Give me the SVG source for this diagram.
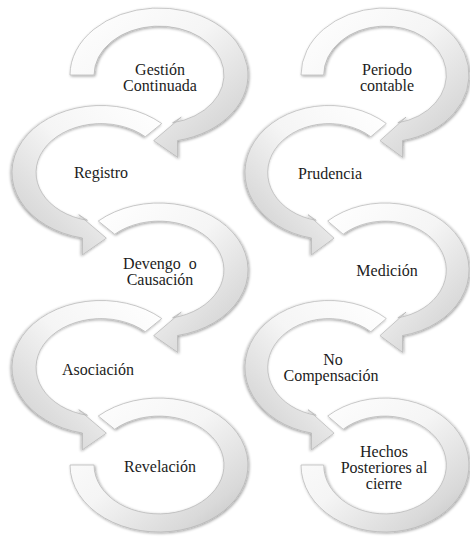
<svg xmlns="http://www.w3.org/2000/svg" width="470" height="539" viewBox="0 0 470 539">
<style>
  .halo { fill: #ffffff; stroke: #ffffff; stroke-width: 5; vector-effect: non-scaling-stroke; stroke-linejoin: round; }
  .shape { fill: url(#gA); stroke: #b3b3b3; stroke-width: 0.9; vector-effect: non-scaling-stroke; filter: url(#sh); }
  text { font-family: 'Liberation Serif', 'DejaVu Serif', serif; font-size: 16px; fill: #1c1c1c; text-anchor: middle; }
</style>
<defs>
  <linearGradient id="gA" x1="0" y1="0" x2="1" y2="1">
    <stop offset="0" stop-color="#ffffff"/>
    <stop offset="0.45" stop-color="#f5f5f5"/>
    <stop offset="0.8" stop-color="#d9d9d9"/>
    <stop offset="1" stop-color="#bdbdbd"/>
  </linearGradient>
  <filter id="sh" x="-15%" y="-15%" width="130%" height="130%">
    <feGaussianBlur in="SourceAlpha" stdDeviation="2"/>
    <feOffset dx="1" dy="2" result="b"/>
    <feComponentTransfer><feFuncA type="linear" slope="0.38"/></feComponentTransfer>
    <feMerge><feMergeNode/><feMergeNode in="SourceGraphic"/></feMerge>
  </filter>
  <path id="pG" d="M -100 0 A 100 100 0 1 1 20.8 97.8 L 21 123 L -6 98 L 25 63 L 15.2 71.4 A 73 73 0 1 0 -73 0 Z"/>
  <path id="pM" d="M -68.2 -73.1 A 100 100 0 1 1 20.8 97.8 L 21 123 L -6 98 L 25 63 L 15.2 71.4 A 73 73 0 1 0 -49.8 -53.4 Z"/>
  <path id="pL" d="M -68.2 -73.1 A 100 100 0 1 1 -100 0 L -73 0 A 73 73 0 1 0 -49.8 -53.4 Z"/>
</defs>
<g id="connectors"/>
<g id="hechos">
  <g transform="translate(385,465) scale(0.84,0.67)"><use href="#pL" class="halo"/><use href="#pL" class="shape"/></g>
  <text x="384" y="457">Hechos</text>
  <text x="384" y="473">Posteriores al</text>
  <text x="384" y="489">cierre</text>
</g>
<g id="nocompensacion">
  <g transform="translate(329,367.5) scale(-0.84,0.67)"><use href="#pM" class="halo"/><use href="#pM" class="shape"/></g>
  <text x="333" y="365">No</text>
  <text x="331" y="381">Compensación</text>
</g>
<g id="medicion">
  <g transform="translate(385,270) scale(0.84,0.67)"><use href="#pM" class="halo"/><use href="#pM" class="shape"/></g>
  <text x="387" y="276">Medición</text>
</g>
<g id="prudencia">
  <g transform="translate(329,172.5) scale(-0.84,0.67)"><use href="#pM" class="halo"/><use href="#pM" class="shape"/></g>
  <text x="330" y="179">Prudencia</text>
</g>
<g id="periodo">
  <g transform="translate(385,75) scale(0.84,0.67)"><use href="#pG" class="halo"/><use href="#pG" class="shape"/></g>
  <text x="387" y="75">Periodo</text>
  <text x="387" y="91">contable</text>
</g>
<g id="revelacion">
  <g transform="translate(159,465) scale(0.89,0.67)"><use href="#pL" class="halo"/><use href="#pL" class="shape"/></g>
  <text x="160" y="472">Revelación</text>
</g>
<g id="asociacion">
  <g transform="translate(101,367.5) scale(-0.89,0.67)"><use href="#pM" class="halo"/><use href="#pM" class="shape"/></g>
  <text x="98" y="375">Asociación</text>
</g>
<g id="devengo">
  <g transform="translate(159,270) scale(0.89,0.67)"><use href="#pM" class="halo"/><use href="#pM" class="shape"/></g>
  <text x="160" y="269" word-spacing="4">Devengo o</text>
  <text x="160" y="285">Causación</text>
</g>
<g id="registro">
  <g transform="translate(101,172.5) scale(-0.89,0.67)"><use href="#pM" class="halo"/><use href="#pM" class="shape"/></g>
  <text x="101" y="178">Registro</text>
</g>
<g id="gestion">
  <g transform="translate(159,75) scale(0.89,0.67)"><use href="#pG" class="halo"/><use href="#pG" class="shape"/></g>
  <text x="160" y="75">Gestión</text>
  <text x="160" y="91">Continuada</text>
</g>
</svg>
